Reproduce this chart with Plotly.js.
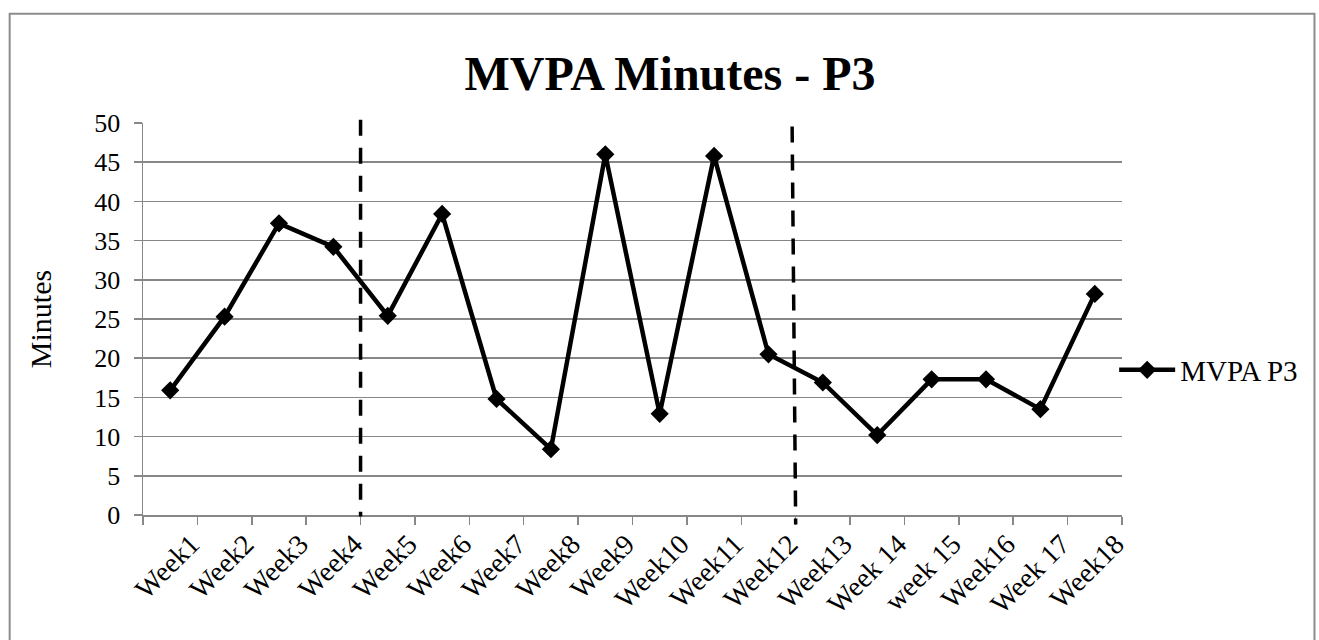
<!DOCTYPE html>
<html>
<head>
<meta charset="utf-8">
<script src="https://cdn.plot.ly/plotly-3.0.1.min.js"></script>
<style>
  html, body { margin: 0; padding: 0; background: #ffffff; }
  #chart { width: 1319px; height: 640px; }
</style>
</head>
<body>
<div id="chart"></div>
<script>
// Weekly MVPA minutes for participant P3
const weeks = ['Week1', 'Week2', 'Week3', 'Week4', 'Week5', 'Week6', 'Week7', 'Week8', 'Week9',
               'Week10', 'Week11', 'Week12', 'Week13', 'Week 14', 'week 15', 'Week16', 'Week 17', 'Week18'];
const mvpaMinutes = [15.9, 25.3, 37.2, 34.2, 25.4, 38.4, 14.8, 8.4, 46.0,
                     12.9, 45.8, 20.5, 16.9, 10.2, 17.3, 17.3, 13.5, 28.2];
const seriesName = 'MVPA P3';
// Phase changes fall between Week4/Week5 and Week12/Week13
const phaseBreaks = [3.5, 11.5];
const yTicks = [0, 5, 10, 15, 20, 25, 30, 35, 40, 45, 50];

const serif = 'Liberation Serif, Times New Roman, serif';
const gridGrey = '#878787';

const trace = {
  type: 'scatter',
  mode: 'lines+markers',
  x: weeks,
  y: mvpaMinutes,
  name: seriesName,
  line: { color: '#000000', width: 4.5 },
  marker: { symbol: 'diamond', size: 14, color: '#000000' }
};

const phaseShapes = [
  { type: 'line', xref: 'x', yref: 'paper', x0: phaseBreaks[0], x1: phaseBreaks[0],
    y0: 1.008, y1: -0.004, line: { color: '#000000', width: 3.5, dash: '16px,12px' } },
  { type: 'line', xref: 'x', yref: 'paper', x0: phaseBreaks[1] - 0.065, x1: phaseBreaks[1],
    y0: 0.991, y1: -0.024, line: { color: '#000000', width: 3.5, dash: '16px,12px' } }
];

// outer chart frame
const frame = { type: 'rect', xref: 'paper', yref: 'paper',
  x0: -0.1362, x1: 1.1966, y0: 1.2789, y1: -0.6,
  line: { color: '#8c8c8c', width: 2 }, fillcolor: 'rgba(0,0,0,0)', layer: 'below' };

const layout = {
  width: 1319,
  height: 640,
  paper_bgcolor: '#ffffff',
  plot_bgcolor: '#ffffff',
  margin: { l: 143, r: 197, t: 123, b: 125, pad: 0 },
  title: {
    text: '<b>MVPA Minutes - P3</b>',
    font: { family: serif, size: 48, color: '#000000' },
    x: 0.508, xref: 'container', xanchor: 'center',
    y: 0.885, yref: 'container', yanchor: 'middle'
  },
  showlegend: true,
  legend: {
    x: 0.992, xanchor: 'left', y: 0.37, yanchor: 'middle',
    itemwidth: 56,
    font: { family: serif, size: 29, color: '#000000' },
    bgcolor: 'rgba(0,0,0,0)', borderwidth: 0
  },
  xaxis: {
    type: 'category',
    tickmode: 'array',
    tickvals: weeks,
    ticktext: weeks,
    tickangle: -45,
    tickson: 'boundaries',
    ticks: 'outside',
    ticklen: 8,
    tickwidth: 1.5,
    tickcolor: gridGrey,
    ticklabelshift: 21,
    showline: true,
    linecolor: gridGrey,
    linewidth: 1.5,
    showgrid: false,
    zeroline: false,
    tickfont: { family: serif, size: 28, color: '#000000' },
    range: [-0.5, 17.5]
  },
  yaxis: {
    range: [0, 50],
    tickmode: 'array',
    tickvals: yTicks,
    ticks: 'outside',
    ticklen: 8,
    tickwidth: 1.5,
    tickcolor: gridGrey,
    ticklabelstandoff: 8,
    showline: true,
    linecolor: gridGrey,
    linewidth: 1.5,
    showgrid: true,
    gridcolor: gridGrey,
    gridwidth: 1.6,
    zeroline: false,
    tickfont: { family: serif, size: 26, color: '#000000' },
    title: { text: 'Minutes', font: { family: serif, size: 30, color: '#000000' }, standoff: 34 }
  },
  shapes: [frame].concat(phaseShapes)
};

Plotly.newPlot('chart', [trace], layout, { displayModeBar: false, staticPlot: true });
</script>
</body>
</html>
